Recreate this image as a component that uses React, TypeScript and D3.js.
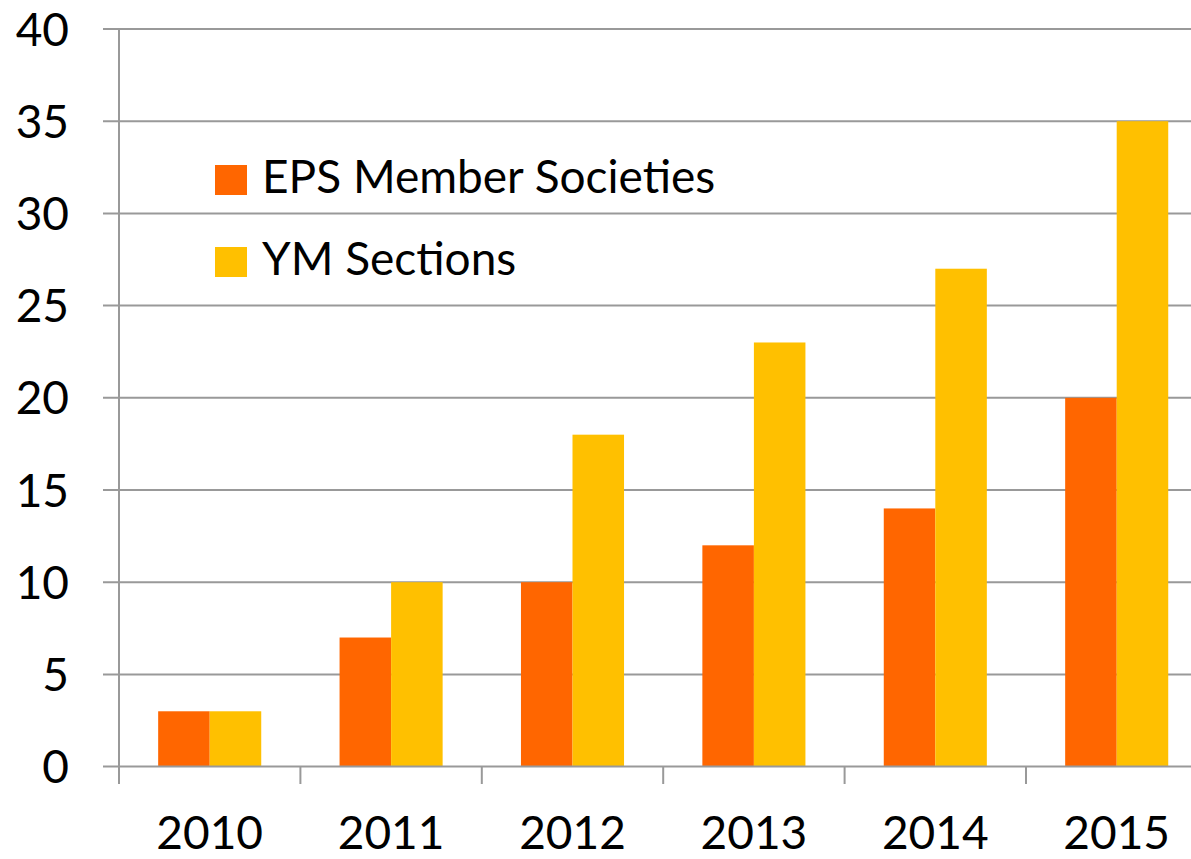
import React from "react";
import * as d3 from "d3";

const years = ["2010", "2011", "2012", "2013", "2014", "2015"];
const epsMembers = [3, 7, 10, 12, 14, 20];
const ymSections = [3, 10, 18, 23, 27, 35];
const seriesNames = ["EPS Member Societies", "YM Sections"];
const seriesColors = ["#FF6600", "#FFC000"];
const yTicks = [0, 5, 10, 15, 20, 25, 30, 35, 40];

const W = 1191;
const H = 859;
const FONT = "Lato, 'Open Sans', sans-serif";

export default function App() {
  const x = d3.scaleBand<string>().domain(years).range([119, 1207.4]).padding(0);
  const inner = d3
    .scaleBand<string>()
    .domain(seriesNames)
    .range([0, x.bandwidth()])
    .paddingInner(0)
    .paddingOuter(0.76);
  const y = d3.scaleLinear().domain([0, 40]).range([766.6, 29]);
  const data = [epsMembers, ymSections];
  const grid = "#999999";

  return (
    <svg
      width={W}
      height={H}
      style={{ position: "absolute", left: 0, top: 0, background: "#fff" }}
    >
      {yTicks.map((t) => (
        <g key={t}>
          {t > 0 && (
            <line x1={103} x2={W} y1={y(t)} y2={y(t)} stroke={grid} strokeWidth={2} />
          )}
          <text
            x={69}
            y={y(t)}
            dy="0.36em"
            textAnchor="end"
            fontFamily={FONT}
            fontSize={46}
            fill="#000"
          >
            {t}
          </text>
        </g>
      ))}
      {data.map((vals, si) =>
        years.map((yr, i) => (
          <rect
            key={si + "-" + yr}
            x={(x(yr) as number) + (inner(seriesNames[si]) as number)}
            y={y(vals[i])}
            width={inner.bandwidth()}
            height={y(0) - y(vals[i])}
            fill={seriesColors[si]}
          />
        ))
      )}
      <line x1={119} x2={119} y1={29} y2={784} stroke={grid} strokeWidth={2} />
      <line x1={103} x2={W} y1={y(0)} y2={y(0)} stroke={grid} strokeWidth={2} />
      {years.map((yr) => (
        <line
          key={"t" + yr}
          x1={(x(yr) as number) + x.bandwidth()}
          x2={(x(yr) as number) + x.bandwidth()}
          y1={y(0)}
          y2={784}
          stroke={grid}
          strokeWidth={2}
        />
      ))}
      {years.map((yr) => (
        <text
          key={"l" + yr}
          x={(x(yr) as number) + x.bandwidth() / 2}
          y={849}
          textAnchor="middle"
          fontFamily={FONT}
          fontSize={46}
          fill="#000"
        >
          {yr}
        </text>
      ))}
      {seriesNames.map((name, i) => (
        <g key={name} transform={`translate(215, ${165 + i * 82})`}>
          <rect width={32} height={30} fill={seriesColors[i]} />
          <text x={47} y={28} fontFamily={FONT} fontSize={46} fill="#000">
            {name}
          </text>
        </g>
      ))}
    </svg>
  );
}
